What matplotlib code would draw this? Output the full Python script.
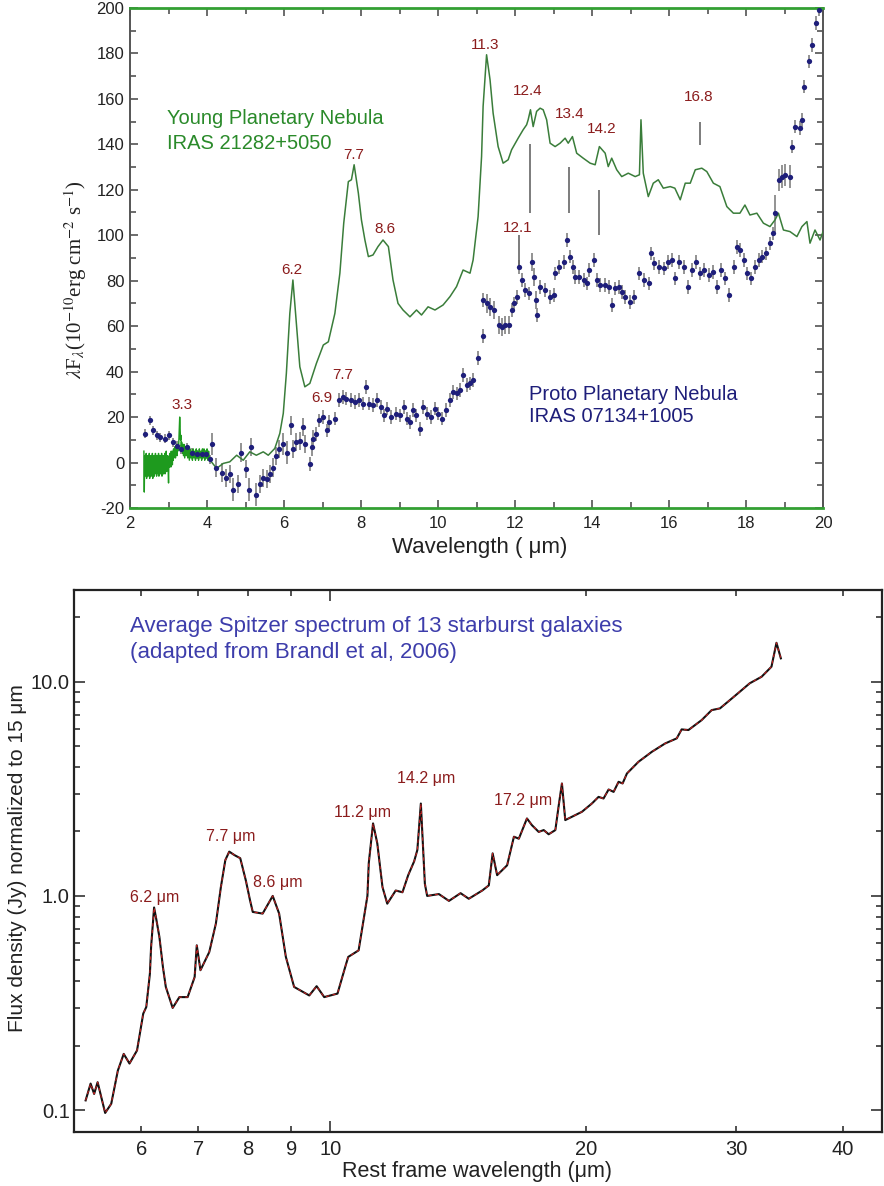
import numpy as np
import matplotlib
matplotlib.use("Agg")
import matplotlib.pyplot as plt
from matplotlib.ticker import FixedLocator, MultipleLocator, NullFormatter, FixedFormatter

plt.rcParams['font.family'] = ['Liberation Sans', 'DejaVu Sans']
plt.rcParams['axes.unicode_minus'] = False
plt.rcParams['mathtext.fontset'] = 'stix'

# ---------------- Upper panel: ISO spectra ----------------
# Young planetary nebula IRAS 21282+5050, short-wavelength (noisy) segment
ypn_nir_wl = [2.36, 2.37, 2.38, 2.39, 2.40, 2.41, 2.42, 2.43, 2.44, 2.45,
              2.46, 2.47, 2.48, 2.49, 2.50, 2.51, 2.52, 2.53, 2.54, 2.55,
              2.56, 2.57, 2.58, 2.59, 2.60, 2.61, 2.62, 2.63, 2.64, 2.65,
              2.66, 2.67, 2.68, 2.69, 2.70, 2.71, 2.72, 2.73, 2.74, 2.75,
              2.76, 2.77, 2.78, 2.79, 2.80, 2.81, 2.82, 2.83, 2.84, 2.85,
              2.86, 2.87, 2.88, 2.89, 2.90, 2.91, 2.92, 2.93, 2.94, 2.95,
              2.96, 2.97, 2.98, 2.99, 3.00, 3.01, 3.02, 3.03, 3.04, 3.05,
              3.06, 3.07, 3.08, 3.09, 3.10, 3.11, 3.12, 3.13, 3.14, 3.15,
              3.16, 3.17, 3.18, 3.19, 3.20, 3.21, 3.22, 3.23, 3.24, 3.25,
              3.26, 3.27, 3.28, 3.29, 3.30, 3.31, 3.32, 3.33, 3.34, 3.35,
              3.36, 3.37, 3.38, 3.39, 3.40, 3.42, 3.44, 3.46, 3.48, 3.50,
              3.52, 3.54, 3.56, 3.58, 3.60, 3.62, 3.64, 3.66, 3.68, 3.70,
              3.72, 3.74, 3.76, 3.78, 3.80, 3.82, 3.84, 3.86, 3.88, 3.90,
              3.92, 3.94, 3.96, 3.98, 4.00, 4.02, 4.04, 4.06, 4.08]
ypn_nir_flux = [5, -13, 3, -6, 2, -5, 4, -7, 1, -4,
                3, -6, 0, -5, 4, -7, 2, -3, 3, -6,
                1, -5, 4, -7, 0, -4, 3, -6, 2, -5,
                4, -3, 1, -6, 3, -4, 2, -5, 4, -6,
                0, -4, 3, -5, 2, -3, 4, -6, 1, -4,
                3, -5, 2, -3, 4, -5, 1, -3, 5, -4,
                2, -2, 3, -4, -9, 2, -2, 4, -1, 3,
                -2, 5, 0, 4, -1, 5, 1, 6, 2, 5,
                3, 7, 2, 6, 4, 8, 3, 7, 5, 8,
                6, 11, 15, 20, 16, 10, 12, 7, 9, 5,
                8, 4, 7, 3, 8, 2, 7, 3, 6, 2,
                7, 1, 6, 2, 5, 1, 6, 2, 5, 1,
                6, 2, 5, 1, 6, 2, 5, 1, 6, 2,
                6, 1, 5, 2, 6, 1, 5, 2, 1]

# Young planetary nebula, main spectrum
ypn_wl = [4.08, 4.25, 4.42, 4.59, 4.77, 4.94, 5.11, 5.28, 5.46, 5.59,
          5.76, 5.89, 5.98, 6.06, 6.15, 6.23, 6.32, 6.41, 6.54, 6.67,
          6.84, 7.02, 7.15, 7.32, 7.45, 7.55, 7.67, 7.75, 7.82, 7.93,
          8.01, 8.10, 8.19, 8.31, 8.44, 8.57, 8.71, 8.83, 8.96, 9.09,
          9.27, 9.44, 9.57, 9.74, 9.92, 10.13, 10.31, 10.48, 10.65, 10.83,
          10.91, 11.04, 11.13, 11.17, 11.26, 11.35, 11.43, 11.56, 11.69, 11.82,
          11.91, 12.08, 12.21, 12.30, 12.34, 12.40, 12.47, 12.56, 12.65, 12.73,
          12.82, 12.91, 13.04, 13.17, 13.30, 13.38, 13.49, 13.60, 13.77, 13.95,
          14.08, 14.19, 14.34, 14.42, 14.51, 14.64, 14.77, 14.94, 15.12, 15.23,
          15.27, 15.33, 15.46, 15.59, 15.72, 15.85, 16.03, 16.15, 16.29, 16.42,
          16.55, 16.68, 16.85, 16.98, 17.15, 17.32, 17.50, 17.67, 17.84, 17.97,
          18.10, 18.28, 18.45, 18.62, 18.75, 18.84, 18.97, 19.14, 19.32, 19.45,
          19.58, 19.66, 19.79, 19.92, 20.0]
ypn_flux = [1.0, -2.6, -0.4, 0.3, 3.2, 1.0, 4.7, 3.2, 4.7, 3.2,
            6.2, 12.8, 21.6, 39.2, 65.6, 80.3, 61.2, 42.1, 33.3, 34.8,
            43.6, 51.7, 53.1, 65.6, 83.3, 105.3, 123.6, 124.4, 131.0, 118.5,
            106.7, 97.9, 90.6, 91.3, 95.0, 97.9, 95.0, 80.3, 70.0, 67.1,
            64.1, 67.1, 64.9, 68.5, 67.1, 69.3, 73.0, 77.4, 84.7, 83.3,
            89.1, 108.2, 134.6, 156.7, 179.4, 168.4, 153.7, 139.0, 131.7, 133.2,
            137.6, 142.7, 146.4, 148.6, 150.8, 155.2, 147.8, 154.5, 155.9, 155.2,
            150.8, 140.5, 139.0, 140.5, 142.7, 140.5, 143.4, 136.1, 133.9, 131.7,
            131.0, 139.0, 136.1, 130.2, 133.9, 128.8, 125.8, 127.3, 125.8, 126.6,
            150.8, 127.3, 117.0, 122.9, 124.4, 120.7, 121.4, 120.7, 115.6, 122.9,
            122.9, 128.8, 129.5, 128.0, 122.9, 121.4, 112.6, 109.7, 109.7, 113.3,
            108.9, 109.7, 105.3, 103.8, 106.7, 109.7, 102.3, 101.6, 99.4, 103.8,
            106.0, 96.5, 102.3, 97.9, 101.6]

# Proto planetary nebula IRAS 07134+1005
ppn_wl = [2.38, 2.51, 2.60, 2.69, 2.77, 2.90, 3.01, 3.12, 3.22, 3.33,
          3.47, 3.60, 3.73, 3.86, 3.97, 4.07, 4.14, 4.24, 4.38, 4.48,
          4.59, 4.68, 4.81, 4.89, 5.01, 5.10, 5.15, 5.27, 5.37, 5.46,
          5.55, 5.64, 5.71, 5.79, 5.88, 5.98, 6.07, 6.18, 6.24, 6.32,
          6.41, 6.48, 6.54, 6.67, 6.72, 6.76, 6.84, 6.91, 7.02, 7.12,
          7.18, 7.32, 7.43, 7.52, 7.62, 7.73, 7.84, 7.95, 8.04, 8.13,
          8.21, 8.32, 8.42, 8.51, 8.59, 8.68, 8.79, 8.90, 9.01, 9.11,
          9.20, 9.27, 9.36, 9.44, 9.53, 9.60, 9.70, 9.81, 9.92, 10.01,
          10.09, 10.21, 10.31, 10.40, 10.48, 10.57, 10.66, 10.74, 10.83, 10.92,
          11.05, 11.16, 11.18, 11.26, 11.35, 11.44, 11.57, 11.65, 11.74, 11.83,
          11.91, 11.97, 12.04, 12.11, 12.17, 12.26, 12.35, 12.43, 12.49, 12.55,
          12.58, 12.65, 12.78, 12.91, 13.00, 13.04, 13.15, 13.27, 13.34, 13.43,
          13.50, 13.56, 13.67, 13.78, 13.86, 13.93, 14.04, 14.12, 14.21, 14.34,
          14.43, 14.51, 14.60, 14.69, 14.77, 14.86, 14.99, 15.08, 15.21, 15.34,
          15.47, 15.53, 15.61, 15.73, 15.86, 15.96, 16.07, 16.16, 16.27, 16.38,
          16.48, 16.59, 16.70, 16.81, 16.91, 17.03, 17.14, 17.24, 17.35, 17.46,
          17.55, 17.68, 17.76, 17.85, 17.94, 18.02, 18.13, 18.24, 18.33, 18.41,
          18.52, 18.63, 18.70, 18.76, 18.85, 18.93, 19.02, 19.13, 19.19, 19.28,
          19.39, 19.45, 19.50, 19.63, 19.71, 19.81, 19.90]
ppn_flux = [12.6, 18.5, 14.1, 11.9, 11.1, 10.4, 11.9, 8.9, 7.4, 5.9,
            6.7, 4.4, 3.7, 3.7, 3.7, 1.5, 8.1, -2.2, -4.4, -6.7,
            -5.2, -11.9, -9.6, 4.4, -3.0, -11.9, 6.7, -14.1, -9.6, -6.7,
            -7.4, -5.2, -2.2, 3.0, 5.9, 8.1, 4.4, 16.3, 5.9, 8.9,
            9.6, 15.6, 8.1, -0.7, 6.7, 10.4, 12.6, 18.5, 20.0, 14.1,
            17.8, 19.3, 27.4, 28.9, 28.1, 27.4, 26.7, 27.4, 25.9, 33.3,
            25.9, 25.2, 27.4, 24.4, 20.7, 23.7, 20.0, 21.5, 20.7, 24.4,
            19.3, 17.8, 23.0, 20.7, 14.8, 24.4, 21.5, 20.0, 23.7, 21.5,
            19.3, 23.0, 27.4, 31.1, 30.4, 31.9, 38.5, 34.1, 34.8, 36.3,
            45.9, 55.6, 71.5, 70.0, 68.5, 67.1, 60.4, 59.7, 60.4, 60.4,
            67.1, 70.0, 72.9, 86.1, 80.3, 75.9, 74.4, 88.3, 81.7, 71.5,
            64.9, 77.3, 75.9, 72.9, 73.7, 83.2, 86.1, 88.3, 97.9, 90.6,
            86.1, 81.7, 81.7, 80.3, 78.8, 84.7, 89.1, 80.3, 78.1, 78.1,
            77.3, 69.3, 76.6, 77.3, 75.1, 72.9, 70.7, 72.9, 83.2, 80.3,
            78.8, 92.0, 87.6, 86.1, 85.4, 88.3, 89.1, 81.0, 88.3, 86.1,
            77.3, 84.7, 88.3, 83.2, 84.7, 82.5, 83.9, 77.3, 84.7, 81.0,
            73.7, 86.1, 94.9, 93.5, 89.1, 83.2, 81.0, 86.1, 89.1, 90.6,
            92.0, 96.4, 100.8, 109.6, 124.3, 125.8, 126.5, 125.8, 139.0, 147.8,
            147.1, 150.8, 165.4, 176.5, 183.8, 193.4, 199.3]
ppn_err = [2, 2, 2, 2, 2, 2, 2, 2, 2, 2,
           2, 2, 2, 2, 2, 2, 5, 4, 4, 4,
           4, 5, 4, 4, 4, 5, 4, 5, 4, 4,
           4, 4, 4, 4, 4, 5, 5, 4, 4, 4,
           4, 4, 4, 3, 4, 4, 3, 3, 3, 3,
           3, 3, 3, 3, 3, 3, 3, 3, 3, 3,
           3, 3, 3, 3, 3, 3, 3, 3, 3, 3,
           3, 3, 3, 3, 3, 3, 3, 3, 3, 3,
           3, 3, 3, 3, 3, 3, 3, 3, 3, 3,
           3, 3, 3, 4, 4, 4, 4, 4, 4, 4,
           3, 3, 3, 3, 3, 3, 3, 4, 4, 4,
           3, 3, 3, 3, 3, 3, 3, 3, 3, 3,
           3, 3, 3, 3, 3, 3, 3, 3, 3, 3,
           3, 3, 3, 3, 3, 3, 3, 3, 3, 3,
           3, 3, 3, 3, 3, 3, 3, 3, 3, 3,
           3, 3, 3, 3, 3, 3, 3, 3, 3, 3,
           3, 3, 3, 3, 3, 3, 3, 3, 3, 3,
           3, 3, 3, 8, 5, 5, 5, 5, 3, 3,
           3, 3, 3, 3, 3, 3, 3]

# Feature tick marks (wavelength, bottom and top of the bar)
feature_wl = [12.11, 12.39, 13.41, 14.18, 16.81]
feature_lo = [86.0, 109.7, 109.7, 100.1, 139.8]
feature_hi = [100.0, 140.0, 130.2, 120.0, 150.0]

# Band labels in the upper panel
upper_band_text = ['3.3', '6.2', '7.7', '8.6', '6.9', '7.7', '11.3',
                   '12.4', '13.4', '14.2', '16.8', '12.1']
upper_band_wl = [3.34, 6.21, 7.82, 8.62, 6.97, 7.52, 11.22,
                 12.34, 13.43, 14.25, 16.76, 12.06]
upper_band_flux = [25.2, 84.7, 135.4, 102.6, 28.2, 38.5, 183.8,
                   163.3, 153.4, 146.7, 160.8, 103.1]

# ---------------- Lower panel: starburst template ----------------
sb_wl = [5.16, 5.23, 5.28, 5.33, 5.44, 5.53, 5.63, 5.72, 5.81, 5.93,
         6.03, 6.08, 6.14, 6.16, 6.21, 6.25, 6.30, 6.36, 6.41, 6.53,
         6.65, 6.80, 6.93, 6.97, 7.04, 7.21, 7.34, 7.44, 7.53, 7.61,
         7.72, 7.84, 7.96, 8.05, 8.11, 8.33, 8.56, 8.71, 8.87, 9.07,
         9.45, 9.64, 9.84, 10.2, 10.43, 10.5, 10.8, 11.06, 11.1, 11.23,
         11.36, 11.52, 11.67, 11.94, 12.16, 12.35, 12.55, 12.66, 12.78, 12.92,
         13.0, 13.42, 13.79, 14.23, 14.55, 15.09, 15.36, 15.52, 15.71, 16.14,
         16.44, 16.66, 17.03, 17.26, 17.58, 17.82, 18.06, 18.39, 18.56, 18.72,
         18.89, 19.76, 20.30, 20.67, 20.95, 21.24, 21.53, 21.82, 22.06, 22.32,
         23.03, 23.88, 24.75, 25.54, 25.88, 26.36, 27.32, 28.07, 28.71, 29.49,
         30.29, 31.11, 32.13, 33.0, 33.45, 33.85]
sb_flux = [0.111, 0.133, 0.119, 0.135, 0.097, 0.107, 0.153, 0.183, 0.165, 0.19,
           0.282, 0.303, 0.434, 0.578, 0.883, 0.77, 0.643, 0.466, 0.376, 0.30,
           0.337, 0.337, 0.418, 0.588, 0.45, 0.547, 0.743, 1.10, 1.47, 1.61,
           1.55, 1.50, 1.18, 0.955, 0.842, 0.827, 1.0, 0.827, 0.519, 0.376,
           0.343, 0.379, 0.337, 0.35, 0.475, 0.519, 0.557, 1.0, 1.42, 2.18,
           1.757, 1.10, 0.92, 1.06, 1.04, 1.25, 1.45, 1.64, 2.70, 1.14,
           1.0, 1.02, 0.948, 1.03, 0.97, 1.06, 1.12, 1.58, 1.25, 1.39,
           1.89, 1.85, 2.30, 2.14, 1.99, 2.03, 1.94, 2.03, 2.65, 3.35,
           2.26, 2.47, 2.70, 2.90, 2.85, 3.14, 3.06, 3.41, 3.35, 3.73,
           4.23, 4.71, 5.15, 5.44, 5.99, 5.95, 6.62, 7.37, 7.51, 8.21,
           8.98, 9.83, 10.55, 11.75, 15.2, 12.86]

lower_band_text = ['6.2 \u03bcm', '7.7 \u03bcm', '8.6 \u03bcm', '11.2 \u03bcm',
                   '14.2 \u03bcm', '17.2 \u03bcm']
lower_band_wl = [6.22, 7.63, 8.68, 10.91, 12.95, 16.87]
lower_band_flux = [0.983, 1.887, 1.155, 2.443, 3.54, 2.78]

# colours
GREEN_LINE = '#3a7d3a'
GREEN_NOISY = '#1e9a1e'
GREEN_TEXT = '#2a8a2a'
NAVY = '#1e1e7a'
DARK_RED = '#8b1c1c'
PURPLE_BLUE = '#3d3dab'

fig = plt.figure(figsize=(8.84, 11.86), dpi=100)

# ---------------- upper axes ----------------
ax1 = fig.add_axes([0.1471, 0.5717, 0.7840, 0.4216])
ax1.errorbar(ppn_wl, ppn_flux, yerr=ppn_err, fmt='none', ecolor='#8a8a8a',
             elinewidth=1.3, capsize=0, zorder=2)
ax1.plot(ypn_nir_wl, ypn_nir_flux, color=GREEN_NOISY, lw=1.0, zorder=3)
ax1.plot(ypn_wl, ypn_flux, color=GREEN_LINE, lw=1.1, zorder=3)
ax1.plot(ppn_wl, ppn_flux, 'o', color=NAVY, ms=3.8, mew=0, zorder=4)
ax1.vlines(feature_wl, feature_lo, feature_hi, color='#666666', lw=1.2, zorder=2)
for t, x, y in zip(upper_band_text, upper_band_wl, upper_band_flux):
    ax1.text(x, y, t, color=DARK_RED, fontsize=11, ha='center', va='center')

ax1.text(2.95, 151.5, 'Young Planetary Nebula', color=GREEN_TEXT,
         fontsize=14.5, ha='left', va='center')
ax1.text(2.95, 140.5, 'IRAS 21282+5050', color=GREEN_TEXT,
         fontsize=14.5, ha='left', va='center')
ax1.text(12.37, 30.1, 'Proto Planetary Nebula', color=NAVY,
         fontsize=14.5, ha='left', va='center')
ax1.text(12.37, 20.1, 'IRAS 07134+1005', color=NAVY,
         fontsize=14.5, ha='left', va='center')

ax1.set_xlim(2, 20)
ax1.set_ylim(-20, 200)
ax1.xaxis.set_major_locator(MultipleLocator(2))
ax1.xaxis.set_minor_locator(MultipleLocator(1))
ax1.yaxis.set_major_locator(MultipleLocator(20))
ax1.yaxis.set_minor_locator(MultipleLocator(10))
ax1.tick_params(which='both', direction='in', top=True, right=True,
                color='#444444', width=1.1, labelsize=12, labelcolor='#222222')
ax1.tick_params(which='major', length=6)
ax1.tick_params(which='minor', length=4)
ax1.tick_params(axis='x', pad=6)
ax1.tick_params(axis='y', pad=4)
for side in ('left', 'right'):
    ax1.spines[side].set_color('#555555')
    ax1.spines[side].set_linewidth(1.4)
for side in ('top', 'bottom'):
    ax1.spines[side].set_color('#33a033')
    ax1.spines[side].set_linewidth(2.0)

ax1.set_xlabel('Wavelength ( \u03bcm)', fontsize=16, color='#222222', va='center')
ax1.xaxis.set_label_coords(0.504, -0.080)
ax1.set_ylabel(r'$\lambda$F$_\lambda$(10$^{-10}$erg cm$^{-2}$ s$^{-1}$)',
               fontsize=15, family='Liberation Serif', color='#222222', va='center')
ax1.yaxis.set_label_coords(-0.079, 0.456)

# ---------------- lower axes ----------------
ax2 = fig.add_axes([0.0837, 0.0455, 0.9140, 0.4570])
ax2.plot(sb_wl, sb_flux, color='#111111', lw=1.5, zorder=3)
ax2.plot(sb_wl, sb_flux, color='#c02020', lw=0.8, dashes=(3, 3), zorder=4)
ax2.set_xscale('log')
ax2.set_yscale('log')
ax2.set_xlim(5.0, 44.5)
ax2.set_ylim(0.079, 26.8)

for t, x, y in zip(lower_band_text, lower_band_wl, lower_band_flux):
    ax2.text(x, y, t, color=DARK_RED, fontsize=11.5, ha='center', va='center')

ax2.text(0.0693, 0.932, 'Average Spitzer spectrum of 13 starburst galaxies',
         transform=ax2.transAxes, color=PURPLE_BLUE, fontsize=16, ha='left', va='center')
ax2.text(0.0693, 0.884, '(adapted from Brandl et al, 2006)',
         transform=ax2.transAxes, color=PURPLE_BLUE, fontsize=16, ha='left', va='center')

ax2.xaxis.set_major_locator(FixedLocator([10]))
ax2.xaxis.set_major_formatter(FixedFormatter(['10']))
ax2.xaxis.set_minor_locator(FixedLocator([6, 7, 8, 9, 20, 30, 40]))
ax2.xaxis.set_minor_formatter(FixedFormatter(['6', '7', '8', '9', '20', '30', '40']))
ax2.yaxis.set_major_locator(FixedLocator([0.1, 1.0, 10.0]))
ax2.yaxis.set_major_formatter(FixedFormatter(['0.1', '1.0', '10.0']))
ax2.yaxis.set_minor_locator(FixedLocator(
    [0.2, 0.3, 0.4, 0.5, 0.6, 0.7, 0.8, 0.9,
     2, 3, 4, 5, 6, 7, 8, 9, 20]))
ax2.yaxis.set_minor_formatter(NullFormatter())
ax2.tick_params(which='both', direction='in', top=True, right=True,
                color='#222222', width=1.1, labelsize=14.5, labelcolor='#222222')
ax2.tick_params(which='major', length=8)
ax2.tick_params(which='minor', length=4)
ax2.tick_params(axis='x', which='both', pad=6)
ax2.tick_params(axis='y', which='both', pad=3)
for side in ax2.spines.values():
    side.set_color('#222222')
    side.set_linewidth(1.6)

ax2.set_xlabel('Rest frame wavelength (\u03bcm)', fontsize=15.5, color='#222222', va='center')
ax2.xaxis.set_label_coords(0.499, -0.073)
ax2.set_ylabel('Flux density (Jy) normalized to 15 \u03bcm', fontsize=15, color='#222222',
               va='center')
ax2.yaxis.set_label_coords(-0.0705, 0.505)

fig.savefig('out.png', dpi=100)
